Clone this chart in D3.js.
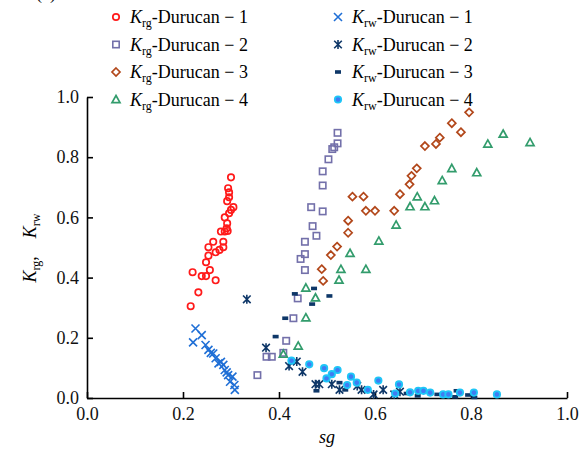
<!DOCTYPE html>
<html>
<head>
<meta charset="utf-8">
<script src="https://cdn.jsdelivr.net/npm/d3@7"></script>
<style>
  body { margin: 0; background: #fff; }
  svg, svg text { font-family: "Liberation Serif", "DejaVu Serif", serif; }
</style>
</head>
<body>
<svg id="chart" width="586" height="457"></svg>
<script>
// data: [sg, K]
var krg1 = [[0.300,0.733],[0.294,0.697],[0.296,0.683],[0.296,0.667],[0.292,0.654],[0.305,0.634],[0.300,0.625],
    [0.296,0.614],[0.287,0.600],[0.292,0.580],[0.291,0.564],[0.279,0.553],[0.287,0.553],[0.293,0.555],[0.284,0.519],
    [0.263,0.519],[0.253,0.501],[0.284,0.501],[0.276,0.492],[0.268,0.484],[0.253,0.473],[0.248,0.451],[0.256,0.425],
    [0.220,0.418],[0.239,0.405],[0.248,0.405],[0.268,0.391],[0.232,0.351],[0.216,0.305]];
var krg2 = [[0.522,0.881],[0.522,0.846],[0.515,0.833],[0.511,0.827],[0.503,0.793],[0.491,0.753],[0.491,0.706],
    [0.467,0.634],[0.491,0.620],[0.470,0.571],[0.478,0.539],[0.454,0.519],[0.454,0.478],[0.445,0.462],[0.454,0.425],
    [0.439,0.331],[0.430,0.265],[0.415,0.190],[0.409,0.150],[0.374,0.137],[0.385,0.137],[0.355,0.076]];
var krg3 = [[0.796,0.949],[0.760,0.913],[0.779,0.883],[0.735,0.865],[0.727,0.844],[0.704,0.837],[0.687,0.763],
    [0.676,0.738],[0.672,0.710],[0.652,0.677],[0.553,0.669],[0.576,0.669],[0.581,0.622],[0.600,0.622],[0.640,0.622],
    [0.544,0.589],[0.544,0.549],[0.521,0.503],[0.508,0.475],[0.489,0.428],[0.492,0.389]];
var krg4 = [[0.867,0.877],[0.923,0.849],[0.835,0.844],[0.760,0.763],[0.812,0.749],[0.740,0.723],[0.688,0.669],
    [0.724,0.656],[0.673,0.636],[0.704,0.636],[0.644,0.575],[0.608,0.522],[0.548,0.481],[0.529,0.428],[0.581,0.428],
    [0.525,0.392],[0.456,0.366],[0.476,0.333],[0.456,0.267],[0.440,0.173],[0.409,0.146]];
var krw1 = [[0.226,0.231],[0.239,0.209],[0.221,0.185],[0.247,0.176],[0.253,0.160],[0.258,0.150],[0.263,0.148],
    [0.268,0.132],[0.274,0.115],[0.279,0.120],[0.284,0.110],[0.287,0.093],[0.291,0.085],[0.294,0.076],[0.303,0.071],
    [0.298,0.054],[0.307,0.043],[0.308,0.027]];
var krw2 = [[0.333,0.328],[0.373,0.167],[0.421,0.106],[0.437,0.121],[0.449,0.087],[0.476,0.046],[0.484,0.046],
    [0.510,0.046],[0.526,0.027],[0.563,0.040],[0.572,0.027],[0.597,0.012],[0.617,0.027],[0.640,0.012],[0.652,0.021]];
var krw3 = [[0.473,0.364],[0.433,0.346],[0.505,0.339],[0.469,0.312],[0.413,0.265],[0.393,0.204],[0.478,0.024],
    [0.526,0.051],[0.538,0.027],[0.666,0.015],[0.689,0.007],[0.730,0.012],[0.770,0.024],[0.767,0.004],[0.794,0.010],
    [0.807,0.002]];
var krw4 = [[0.426,0.124],[0.463,0.112],[0.494,0.099],[0.522,0.093],[0.510,0.079],[0.499,0.065],[0.550,0.071],
    [0.562,0.051],[0.542,0.043],[0.585,0.027],[0.607,0.058],[0.642,0.015],[0.650,0.045],[0.673,0.019],[0.690,0.024],
    [0.701,0.024],[0.715,0.018],[0.742,0.012],[0.753,0.012],[0.777,0.018],[0.806,0.018],[0.854,0.012]];

var xticks = [0, 0.2, 0.4, 0.6, 0.8, 1.0];
var yticks = [0, 0.2, 0.4, 0.6, 0.8, 1.0];

var series = [
    {name: 'rg', n: 1, data: krg1, shape: 'circle', color: '#ff1a1a'},
    {name: 'rg', n: 2, data: krg2, shape: 'square', color: '#7370aa'},
    {name: 'rg', n: 3, data: krg3, shape: 'diamond', color: '#b2471a'},
    {name: 'rg', n: 4, data: krg4, shape: 'triangle', color: '#329c6c'},
    {name: 'rw', n: 1, data: krw1, shape: 'cross', color: '#1f6fd6'},
    {name: 'rw', n: 2, data: krw2, shape: 'star', color: '#0e3768'},
    {name: 'rw', n: 3, data: krw3, shape: 'dash', color: '#0e3768'},
    {name: 'rw', n: 4, data: krw4, shape: 'dot', color: '#1ec6f7'},
];

var serif = '"Liberation Serif", "DejaVu Serif", serif';
var svg = d3.select('#chart').attr('font-family', serif);
var x = d3.scaleLinear().domain([0, 1]).range([87, 567]);
var y = d3.scaleLinear().domain([0, 1]).range([398, 97]);

// axes: left and bottom only, ticks pointing inward
function styleAxis(g) {
    g.attr('font-family', serif).attr('font-size', 18);
    g.select('.domain').attr('stroke-width', 1.6);
    g.selectAll('.tick line').attr('stroke-width', 1.6);
    g.selectAll('text').attr('fill', '#111');
}

svg.append('g')
    .attr('transform', 'translate(0,' + y(0) + ')')
    .call(d3.axisBottom(x).tickValues(xticks).tickFormat(d3.format('.1f')).tickSizeInner(-6).tickSizeOuter(0).tickPadding(9))
    .call(styleAxis);

svg.append('g')
    .attr('transform', 'translate(' + x(0) + ',0)')
    .call(d3.axisLeft(y).tickValues(yticks).tickFormat(d3.format('.1f')).tickSizeInner(-6).tickSizeOuter(0).tickPadding(8))
    .call(styleAxis);

// titles
svg.append('text')
    .attr('x', x(0.5)).attr('y', 443)
    .attr('text-anchor', 'middle').attr('font-size', 18).attr('font-style', 'italic')
    .text('sg');

var ytitle = svg.append('text')
    .attr('transform', 'translate(36,248) rotate(-90)')
    .attr('text-anchor', 'middle').attr('font-size', 18);
ytitle.append('tspan').attr('font-style', 'italic').text('K');
ytitle.append('tspan').attr('font-size', 12).attr('dy', 4).text('rg');
ytitle.append('tspan').attr('dy', -4).text(',\u2003');
ytitle.append('tspan').attr('font-style', 'italic').text('K');
ytitle.append('tspan').attr('font-size', 12).attr('dy', 4).text('rw');

// panel label, mostly above the top edge as in the reference
svg.append('text').attr('x', 36).attr('y', -1).attr('font-size', 18).text('(a)');

function drawMarker(sel, shape, color) {
    if (shape == 'circle') {
        sel.append('circle').attr('r', 3.2).attr('fill', 'none').attr('stroke', color).attr('stroke-width', 1.7);
    } else if (shape == 'square') {
        sel.append('rect').attr('x', -3.2).attr('y', -3.2).attr('width', 6.4).attr('height', 6.4)
            .attr('fill', 'none').attr('stroke', color).attr('stroke-width', 1.6);
    } else if (shape == 'diamond') {
        sel.append('path').attr('d', 'M0,-4L4,0L0,4L-4,0Z')
            .attr('fill', 'none').attr('stroke', color).attr('stroke-width', 1.7);
    } else if (shape == 'triangle') {
        sel.append('path').attr('d', 'M0,-4L4,3.2L-4,3.2Z')
            .attr('fill', 'none').attr('stroke', color).attr('stroke-width', 1.7);
    } else if (shape == 'cross') {
        sel.append('path').attr('d', 'M-4,-4L4,4M-4,4L4,-4')
            .attr('fill', 'none').attr('stroke', color).attr('stroke-width', 1.6);
    } else if (shape == 'star') {
        sel.append('path').attr('d', 'M-3.8,-3.8L3.8,3.8M-3.8,3.8L3.8,-3.8M0,-4.5L0,4.5')
            .attr('fill', 'none').attr('stroke', color).attr('stroke-width', 1.6);
    } else if (shape == 'dash') {
        sel.append('rect').attr('x', -3).attr('y', -1.8).attr('width', 6).attr('height', 3.6).attr('fill', color);
    } else if (shape == 'dot') {
        sel.append('circle').attr('r', 3.2).attr('fill', '#3f7cf2').attr('stroke', color).attr('stroke-width', 1.8);
    }
}

// points
series.forEach(function(s) {
    svg.append('g').selectAll('g').data(s.data).enter().append('g')
        .attr('transform', d => 'translate(' + x(d[0]) + ',' + y(d[1]) + ')')
        .each(function() { drawMarker(d3.select(this), s.shape, s.color); });
});

// legend: two columns, four rows
var legend = svg.append('g');
series.forEach(function(s) {
    var col = s.name == 'rg' ? 0 : 1;
    var row = s.n - 1;
    var lx = col == 0 ? 116 : 338;
    var ly = 17 + row * 27.5;
    var item = legend.append('g').attr('transform', 'translate(' + lx + ',' + ly + ')');
    drawMarker(item, s.shape, s.color);
    var t = item.append('text').attr('x', 14).attr('y', 6).attr('font-size', 18);
    t.append('tspan').attr('font-style', 'italic').text('K');
    t.append('tspan').attr('font-size', 12).attr('dy', 4).text(s.name);
    t.append('tspan').attr('dy', -4).text('-Durucan \u2212 ' + s.n);
});
</script>
</body>
</html>
